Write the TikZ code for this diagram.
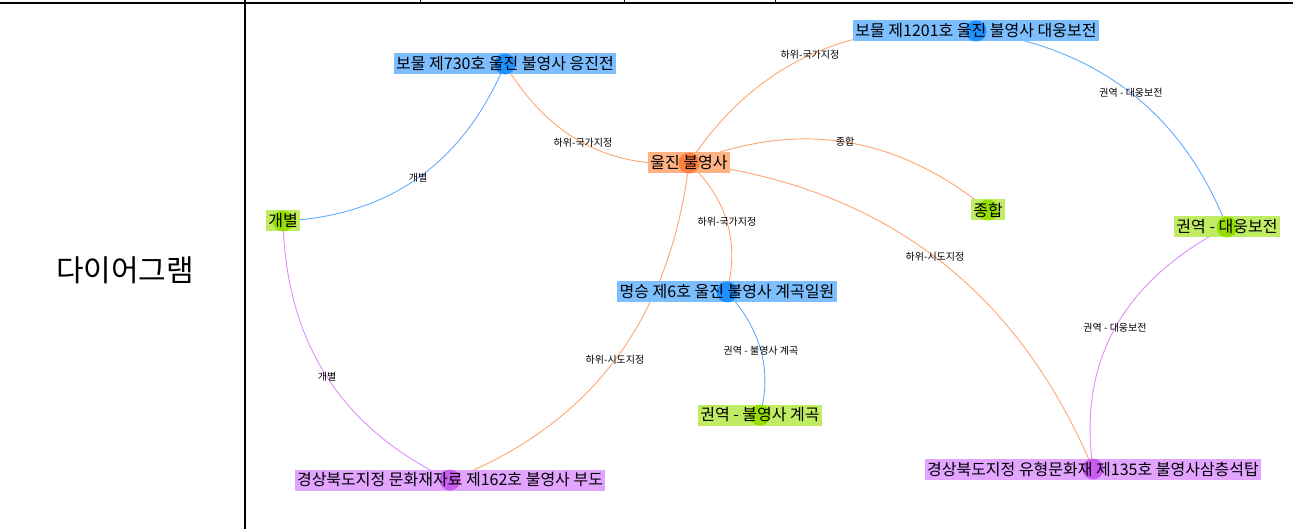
\documentclass[tikz,border=0pt]{standalone}
\usepackage{fontspec}
\newfontfamily\kr{Noto Sans CJK KR}
\usetikzlibrary{calc}

\definecolor{bluebox}{RGB}{125,190,255}
\definecolor{bluedot}{RGB}{30,144,255}
\definecolor{orangebox}{RGB}{255,178,132}
\definecolor{orangedot}{RGB}{255,128,64}
\definecolor{greenbox}{RGB}{192,236,100}
\definecolor{greendot}{RGB}{150,222,0}
\definecolor{purplebox}{RGB}{226,164,255}
\definecolor{purpledot}{RGB}{200,92,240}
\definecolor{orangeline}{RGB}{255,165,115}
\definecolor{blueline}{RGB}{100,172,255}
\definecolor{purpleline}{RGB}{222,142,255}

\tikzset{
  vert/.style={fill=#1box, inner xsep=2.5pt, inner ysep=1pt, minimum height=21pt,
    font=\kr\fontsize{16}{18}\selectfont, text=black,
    path picture={\fill[#1dot] (path picture bounding box.center) circle (10.5pt);}},
  link/.style={draw=#1line, line width=0.9pt},
  elab/.style={font=\kr\fontsize{10}{11}\selectfont, inner sep=1pt, text=black},
  rule/.style={draw=black, line width=#1},
}

% curve through a quadratic control point, label at its middle
\newcommand\linkcurve[5]{%
  \draw[link=#4] (#1) .. controls ($(#1)!2/3!(#3)$) and ($(#2)!2/3!(#3)$) .. (#2)
    node[elab, pos=0.5] {#5};}

\begin{document}
\begin{tikzpicture}[x=1pt,y=-1pt]
\useasboundingbox (0,0) rectangle (1293,529);

% table frame
\draw[rule=2pt] (0,3.5) -- (1293,3.5);
\draw[rule=1.3pt] (245,0) -- (245,529);
\foreach \tx in {420,624,775} \draw[rule=1pt] (\tx,0) -- (\tx,3);
\node[font=\kr\fontsize{30}{34}\selectfont] (title) at (125,270) {다이어그램};

% vertex positions
\coordinate (A) at (505,64);
\coordinate (B) at (976,31);
\coordinate (C) at (689,163);
\coordinate (D) at (988,210);
\coordinate (E) at (283,221);
\coordinate (F) at (1227,227);
\coordinate (G) at (727,292);
\coordinate (H) at (760,415);
\coordinate (I) at (450,480);
\coordinate (J) at (1093,469);

% connectors
\linkcurve{C}{A}{569,172.5}{orange}{하위-국가지정}
\linkcurve{C}{B}{787.5,13}{orange}{하위-국가지정}
\linkcurve{C}{D}{851.5,97.5}{orange}{종합}
\linkcurve{C}{G}{746,216.5}{orange}{하위-국가지정}
\linkcurve{C}{J}{979,198}{orange}{하위-시도지정}
\linkcurve{C}{I}{660.5,398.5}{orange}{하위-시도지정}
\linkcurve{A}{E}{442,213.5}{blue}{개별}
\linkcurve{E}{I}{287.5,403.5}{purple}{개별}
\linkcurve{B}{F}{1160.5,57}{blue}{권역 - 대웅보전}
\linkcurve{F}{J}{1070,308}{purple}{권역 - 대웅보전}
\linkcurve{G}{H}{778.5,348.5}{blue}{권역 - 불영사 계곡}

% vertices
\node[vert=blue] (nA) at (A) {보물 제730호 울진 불영사 응진전};
\node[vert=blue] (nB) at (B) {보물 제1201호 울진 불영사 대웅보전};
\node[vert=orange] (nC) at (C) {울진 불영사};
\node[vert=green] (nD) at (D) {종합};
\node[vert=green] (nE) at (E) {개별};
\node[vert=green] (nF) at (F) {권역 - 대웅보전};
\node[vert=blue] (nG) at (G) {명승 제6호 울진 불영사 계곡일원};
\node[vert=green] (nH) at (H) {권역 - 불영사 계곡};
\node[vert=purple] (nI) at (I) {경상북도지정 문화재자료 제162호 불영사 부도};
\node[vert=purple] (nJ) at (J) {경상북도지정 유형문화재 제135호 불영사삼층석탑};
\end{tikzpicture}
\end{document}
